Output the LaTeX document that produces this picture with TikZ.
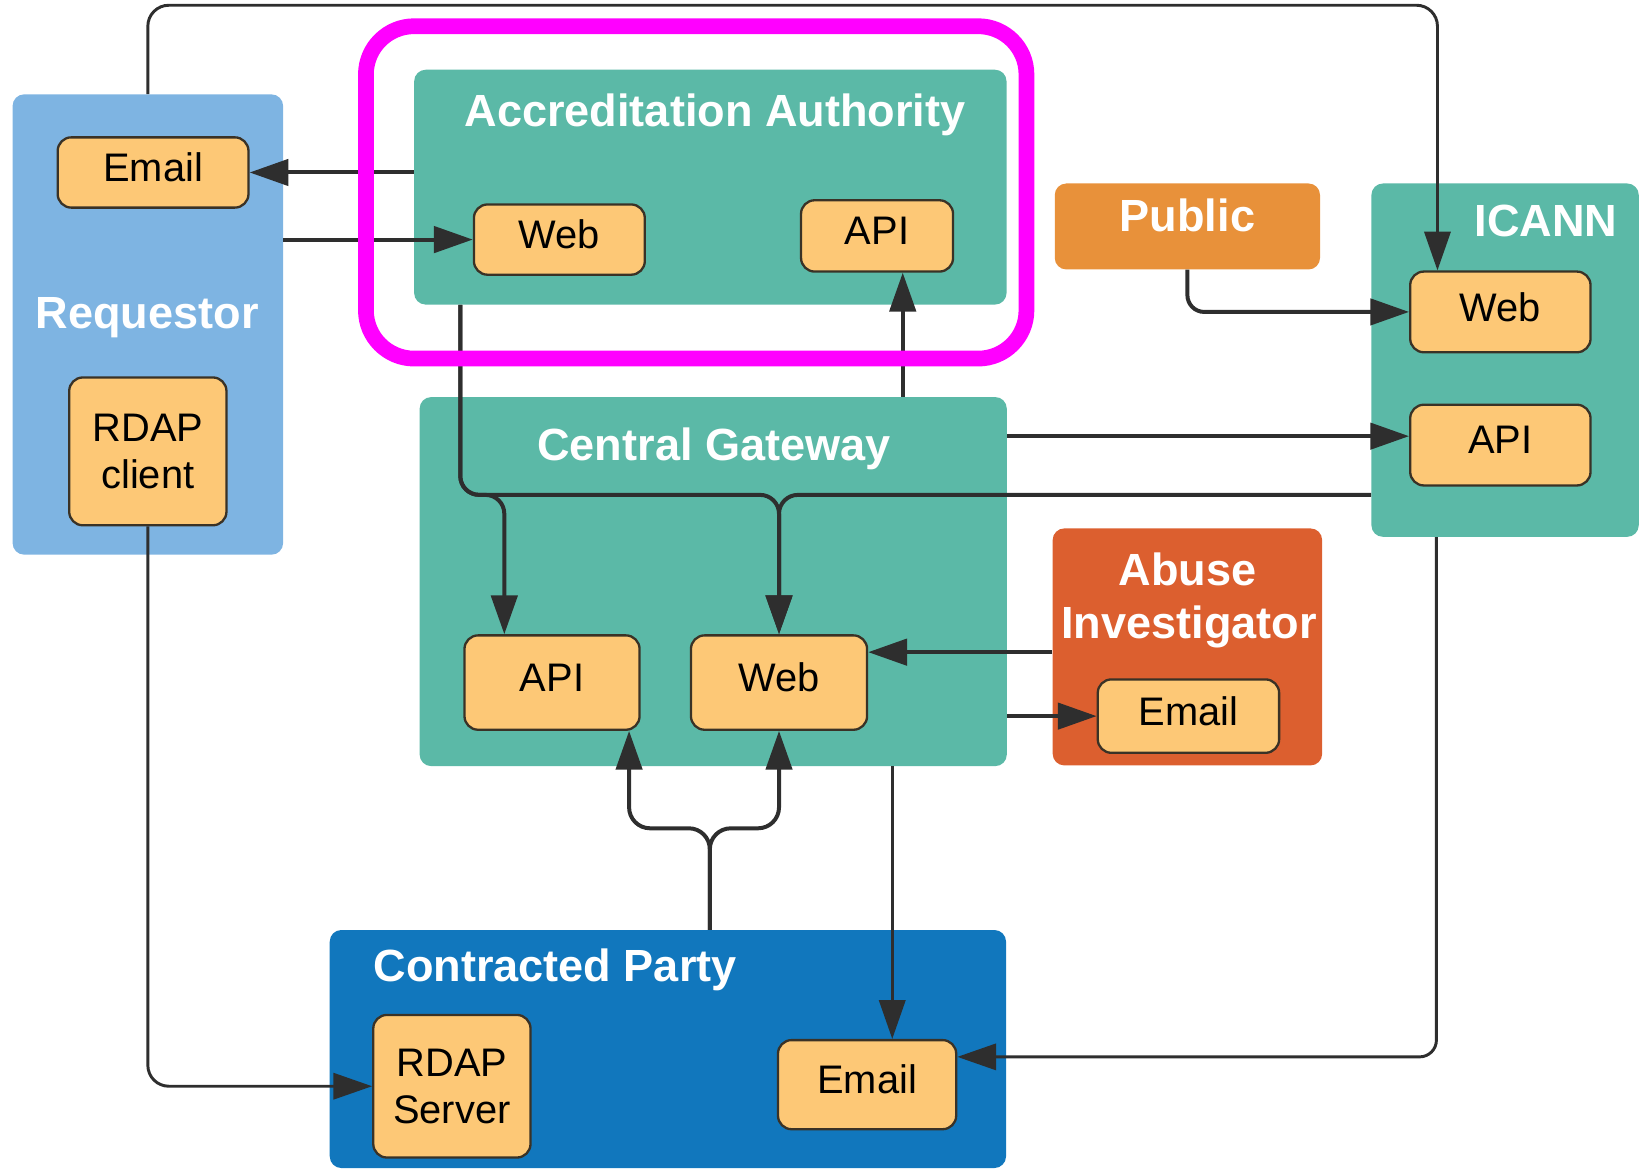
\documentclass[tikz,border=0pt]{standalone}
\usepackage{fontspec}
\setmainfont{Liberation Sans}
\usetikzlibrary{arrows.meta}
\definecolor{cTeal}{HTML}{5BB9A7}
\definecolor{cReq}{HTML}{7EB4E2}
\definecolor{cPub}{HTML}{E8913A}
\definecolor{cAbuse}{HTML}{DC5F2F}
\definecolor{cCP}{HTML}{1177BD}
\definecolor{cInner}{HTML}{FDC876}
\definecolor{cEdge}{HTML}{3A3226}
\definecolor{cLine}{HTML}{2E2E2E}
\definecolor{cMag}{HTML}{FF00FF}
\begin{document}
\begin{tikzpicture}[x=1pt,y=-1pt,
  grp/.style={fill=#1, rounded corners=11pt, inner sep=0pt, draw=none},
  comp/.style={fill=cInner, draw=cEdge, line width=2.2pt, rounded corners=13pt, inner sep=0pt,
    font=\fontsize{38}{45}\selectfont, text=black},
  comp1/.style={comp, text depth=10pt},
  comp2/.style={comp, align=center},
  ttl/.style={font=\fontsize{43}{50}\selectfont\bfseries, text=white, inner sep=0pt, anchor=base},
  conn/.style={draw=cLine, line width=3.8pt, -{Triangle[length=37pt,width=25pt]}},
  thinconn/.style={conn, line width=2.8pt},
]
\useasboundingbox (0,0) rectangle (1568,1117);

% group boxes
\node[grp=cReq, minimum width=258pt, minimum height=439pt] (Req) at (141,309.5) {};
\node[grp=cTeal, minimum width=565pt, minimum height=224pt] (AA) at (677.5,178.5) {};
\node[grp=cTeal, minimum width=560pt, minimum height=352pt] (CG) at (680.25,554.7) {};
\node[grp=cPub, minimum width=253pt, minimum height=82pt] (Pub) at (1132.5,216) {};
\node[grp=cTeal, minimum width=255pt, minimum height=337pt] (ICANN) at (1435.5,343.5) {};
\node[grp=cAbuse, minimum width=257pt, minimum height=226pt] (Ab) at (1132.5,617) {};
\node[grp=cCP, minimum width=645pt, minimum height=227pt] (CP) at (637,1000.5) {};

% titles
\node[ttl] (ReqT) at (140.5,313) {Requestor};
\node[ttl] (AAT) at (682,121) {Accreditation Authority};
\node[ttl] (PubT) at (1132.5,221) {Public};
\node[ttl] (ICT) at (1474.5,226) {ICANN};
\node[ttl] (CGT) at (681,439) {Central Gateway};
\node[ttl] (AbT1) at (1132.5,558) {Abuse};
\node[ttl] (AbT2) at (1134,608.5) {Investigator};
\node[ttl, anchor=base west] (CPT) at (356,936) {Contracted Party};

% components
\node[comp1, minimum width=182pt, minimum height=67pt] (ReqEmail) at (146,164.5) {Email};
\node[comp2, minimum width=150pt, minimum height=141pt] (ReqRDAP) at (141,430.5) {RDAP\\client};
\node[comp1, minimum width=163pt, minimum height=67pt] (AAWeb) at (533.5,228.5) {Web};
\node[comp1, minimum width=145pt, minimum height=68pt] (AAAPI) at (836.5,225) {API};
\node[comp1, minimum width=172pt, minimum height=77pt] (ICWeb) at (1431,297.5) {Web};
\node[comp1, minimum width=172pt, minimum height=77pt] (ICAPI) at (1431,424.5) {API};
\node[comp1, minimum width=167pt, minimum height=90pt] (CGAPI) at (526.5,651) {API};
\node[comp1, minimum width=168pt, minimum height=90pt] (CGWeb) at (743,651) {Web};
\node[comp1, minimum width=173pt, minimum height=70pt] (AbEmail) at (1133.5,683) {Email};
\node[comp2, minimum width=150pt, minimum height=136pt] (CPRDAP) at (431,1036) {RDAP\\Server};
\node[comp1, minimum width=170pt, minimum height=85pt] (CPEmail) at (827,1034.5) {Email};

% connectors
\draw[thinconn, rounded corners=20pt] (Req.north) -- (141,5) -- (1371,5) -- (1371,0 |- ICWeb.north);
\draw[conn] (ReqEmail.east -| AA.west) -- (ReqEmail.east);
\draw[conn] (AAWeb.west -| Req.east) -- (AAWeb.west);
\draw[conn] (861,0 |- CG.north) -- (861,0 |- AAAPI.south);
\draw[conn, rounded corners=16pt] (Pub.south) |- (ICWeb.west);
\draw[conn] (CG.east |- 0,416) -- (ICAPI.west |- 0,416);
\draw[conn, rounded corners=18pt] (439,0 |- AA.south) -- (439,472) -- (481,472) -- (481,0 |- CGAPI.north);
\draw[conn, rounded corners=18pt] (439,0 |- AA.south) -- (439,472) -- (743,472) -- (CGWeb.north);
\draw[conn, rounded corners=18pt] (ICANN.west |- 0,472) -- (743,472) -- (CGWeb.north);
\draw[conn] (Ab.west |- 0,622) -- (CGWeb.east |- 0,622);
\draw[conn] (CG.east |- AbEmail.west) -- (AbEmail.west);
\draw[conn, rounded corners=20pt] (677,0 |- CP.north) -- (677,790) -- (600,790) -- (600,0 |- CGAPI.south);
\draw[conn, rounded corners=20pt] (677,0 |- CP.north) -- (677,790) -- (743,790) -- (CGWeb.south);
\draw[thinconn] (851,0 |- CG.south) -- (851,0 |- CPEmail.north);
\draw[thinconn, rounded corners=16pt] (1370,0 |- ICANN.south) -- (1370,1008) -- (CPEmail.east |- 0,1008);
\draw[thinconn, rounded corners=20pt] (ReqRDAP.south) |- (CPRDAP.west);

% highlight
\node[draw=cMag, line width=15pt, rounded corners=46pt, minimum width=630pt, minimum height=317pt, inner sep=0pt] (HL) at (664,183.5) {};
\end{tikzpicture}
\end{document}
